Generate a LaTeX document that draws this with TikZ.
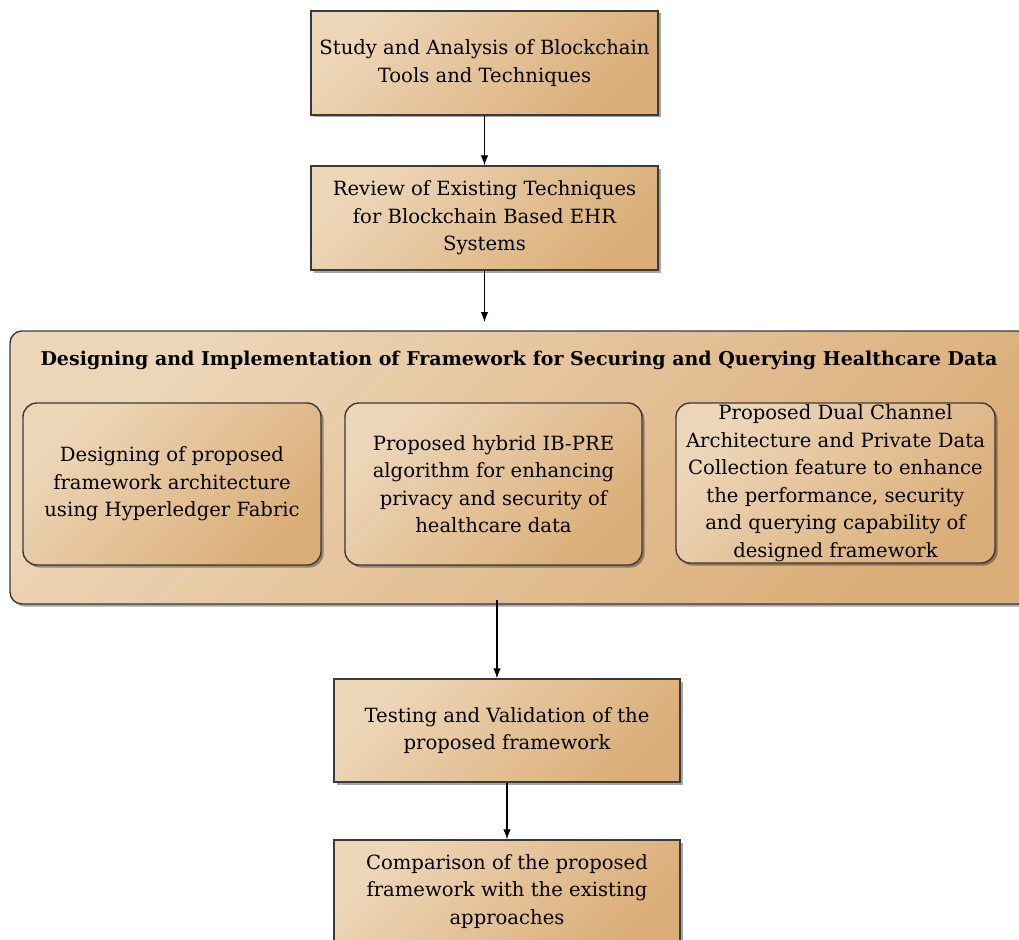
\documentclass[tikz,border=0pt]{standalone}
\usepackage{fontspec}
\setmainfont{DejaVu Serif}
\usetikzlibrary{arrows.meta,shadows}
\definecolor{boxlight}{HTML}{EDD6B8}
\definecolor{boxdark}{HTML}{DBAE79}
\definecolor{boxline}{HTML}{3A3A3A}
\tikzset{
  grad/.style={top color=boxlight, bottom color=boxdark, shading angle=45},
  shad/.style={drop shadow={shadow xshift=2.5pt, shadow yshift=-2.5pt, fill=black, opacity=0.35}},
  stepbox/.style={draw=boxline, line width=1.4pt, grad, shad, align=center, inner sep=0pt,
    font=\fontsize{19.6}{27.5}\selectfont},
  roundbox/.style={stepbox, rounded corners=14pt},
  conn/.style={-{Latex[length=10pt,width=7.5pt]}, line width=1.1pt, black},
}
\begin{document}
\begin{tikzpicture}[x=1pt,y=-1pt]
\useasboundingbox (0,0) rectangle (1019,939);
\clip (0,0) rectangle (1019,939);
\node[stepbox, minimum width=347pt, minimum height=104pt] (b1) at (484.5,63)
  {Study and Analysis of Blockchain\\Tools and Techniques};
\node[stepbox, minimum width=347pt, minimum height=104pt] (b2) at (484.5,218)
  {Review of Existing Techniques\\for Blockchain Based EHR\\Systems};
\node[roundbox, minimum width=1020pt, minimum height=273pt, rounded corners=12pt] (big) at (520,467.5) {};
\node[font=\fontsize{19}{22}\selectfont\bfseries, inner sep=0pt] (title) at (519,360)
  {Designing and Implementation of Framework for Securing and Querying Healthcare Data};
\node[roundbox, minimum width=298pt, minimum height=162pt] (i1) at (172,484)
  {Designing of proposed\\framework architecture\\using Hyperledger Fabric};
\node[roundbox, minimum width=297pt, minimum height=162pt] (i2) at (493.5,484)
  {Proposed hybrid IB-PRE\\algorithm for enhancing\\privacy and security of\\healthcare data};
\node[roundbox, minimum width=319pt, minimum height=160pt] (i3) at (835.5,483)
  {Proposed Dual Channel\\Architecture and Private Data\\Collection feature to enhance\\the performance, security\\and querying capability of\\designed framework};
\node[stepbox, minimum width=346pt, minimum height=103pt] (b4) at (507,730.5)
  {Testing and Validation of the\\proposed framework};
\node[stepbox, minimum width=346pt, minimum height=103pt] (b5) at (507,891.5)
  {Comparison of the proposed\\framework with the existing\\approaches};
\coordinate (a2e) at (484.5,322);
\coordinate (a3s) at (497,600);
\draw[conn] (b1.south) -- (b1.south |- b2.north);
\draw[conn] (b2.south) -- (a2e);
\draw[conn] (a3s) -- (a3s |- b4.north);
\draw[conn] (b4.south) -- (b4.south |- b5.north);
\end{tikzpicture}
\end{document}
